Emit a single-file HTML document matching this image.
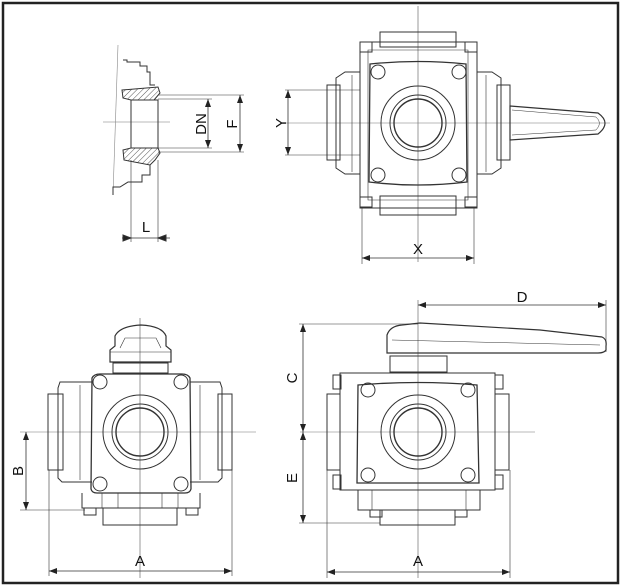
<!DOCTYPE html>
<html><head><meta charset="utf-8"><style>
html,body{margin:0;padding:0;background:#fff}
svg{display:block}
text{font-family:"Liberation Sans",Arial,sans-serif;font-size:15px;fill:#111}
</style></head><body>
<svg width="623" height="587" viewBox="0 0 623 587" xmlns="http://www.w3.org/2000/svg">
<defs>
<marker id="ar" markerWidth="8" markerHeight="6" refX="8" refY="3" orient="auto-start-reverse" markerUnits="userSpaceOnUse"><path d="M0,0 L8,3 L0,6 z" fill="#222"/></marker>
<pattern id="hatch" width="4" height="4" patternUnits="userSpaceOnUse" patternTransform="rotate(45)"><line x1="0" y1="0" x2="0" y2="4" stroke="#555" stroke-width="1"/></pattern>
</defs>
<rect x="3" y="3" width="615" height="580" fill="#fff" stroke="#222" stroke-width="2.5"/>

<g fill="none" stroke="#333" stroke-width="1">
<!-- ===== Section view ===== -->
<line x1="103" y1="122" x2="170" y2="122" stroke="#777" stroke-width="0.6"/>
<path d="M118,45 L113,195" stroke="#888" stroke-width="0.6"/>
<path d="M123,60 L127,60 L127,62 L140,62 L140,66 L147,66 L147,72 L150,72 L150,85 L155,85"/>
<path d="M122,90 L158,87 L160,93 L154,100 L131,100 L123,98 z" fill="url(#hatch)"/>
<path d="M123,150 L131,148 L158,148 L160,153 L155,160 L150,165 L124,160 z" fill="url(#hatch)"/>
<rect x="131" y="100" width="27" height="48"/>
<path d="M150,165 L150,175 L142,175 L142,182 L128,182 L120,187 L113,187 L113,195"/>
<line x1="158" y1="99" x2="212" y2="99" stroke-width="0.6"/>
<line x1="158" y1="148" x2="212" y2="148" stroke-width="0.6"/>
<line x1="158" y1="95" x2="244" y2="95" stroke-width="0.6"/>
<line x1="158" y1="152" x2="244" y2="152" stroke-width="0.6"/>
<line x1="208" y1="99" x2="208" y2="148" stroke-width="0.8" marker-start="url(#ar)" marker-end="url(#ar)"/>
<line x1="240" y1="95" x2="240" y2="152" stroke-width="0.8" marker-start="url(#ar)" marker-end="url(#ar)"/>
<line x1="131" y1="160" x2="131" y2="242" stroke-width="0.6"/>
<line x1="158" y1="160" x2="158" y2="242" stroke-width="0.6"/>
<line x1="122" y1="238" x2="170" y2="238" stroke-width="0.8"/>
<path d="M131,238 l-8,-3 v6z M158,238 l8,-3 v6z" fill="#222"/>
</g>
<text x="146" y="232" text-anchor="middle">L</text>
<text transform="translate(206,124) rotate(-90)" text-anchor="middle">DN</text>
<text transform="translate(237,124) rotate(-90)" text-anchor="middle">F</text>

<!-- ===== Top view ===== -->
<g fill="none" stroke="#333" stroke-width="1">
<line x1="418" y1="6" x2="418" y2="262" stroke="#555" stroke-width="0.6"/>
<line x1="280" y1="123" x2="610" y2="123" stroke="#777" stroke-width="0.6"/>
<rect x="380" y="32" width="76" height="15"/>
<rect x="380" y="196" width="76" height="19"/>
<rect x="360" y="42" width="117" height="166"/>
<path d="M368,50 L468,50 L468,200 L368,200 z" stroke-width="0.6"/>
<path d="M370,64 Q418,59 466,64 L467,182 Q418,188 369,182 z" stroke-width="1.3"/>
<rect x="360" y="42" width="12" height="10"/><rect x="465" y="42" width="12" height="10"/>
<rect x="360" y="197" width="12" height="10"/><rect x="465" y="197" width="12" height="10"/>
<circle cx="378" cy="72" r="7"/><circle cx="459" cy="72" r="7"/>
<circle cx="378" cy="175" r="7"/><circle cx="459" cy="175" r="7"/>
<circle cx="418" cy="123" r="37"/><circle cx="418" cy="123" r="28"/><circle cx="418" cy="123" r="24" stroke-width="1.4"/>
<path d="M360,72 L345,72 L336,78 L336,168 L345,174 L360,174"/>
<rect x="327" y="85" width="13" height="75"/>
<line x1="352" y1="75" x2="352" y2="172" stroke-width="0.6"/>
<path d="M477,72 L492,72 L501,78 L501,168 L492,174 L477,174"/>
<rect x="497" y="85" width="13" height="75"/>
<line x1="486" y1="75" x2="486" y2="172" stroke-width="0.6"/>
<path d="M510,106 L598,113 Q612,123 598,134 L510,140 z" stroke-width="1.2"/>
<path d="M512,110 L596,117 Q603,123 596,130 L512,135" stroke-width="0.5"/>
<line x1="285" y1="90" x2="360" y2="90" stroke-width="0.6"/>
<line x1="285" y1="155" x2="360" y2="155" stroke-width="0.6"/>
<line x1="288" y1="90" x2="288" y2="155" stroke-width="0.8" marker-start="url(#ar)" marker-end="url(#ar)"/>
<line x1="362" y1="208" x2="362" y2="264" stroke-width="0.6"/>
<line x1="474" y1="208" x2="474" y2="264" stroke-width="0.6"/>
<line x1="362" y1="258" x2="474" y2="258" stroke-width="0.8" marker-start="url(#ar)" marker-end="url(#ar)"/>
</g>
<text x="418" y="254" text-anchor="middle">X</text>
<text transform="translate(286,123) rotate(-90)" text-anchor="middle">Y</text>

<!-- ===== Bottom-left view ===== -->
<g fill="none" stroke="#333" stroke-width="1">
<line x1="140" y1="318" x2="140" y2="578" stroke="#555" stroke-width="0.6"/>
<line x1="20" y1="432" x2="256" y2="432" stroke="#777" stroke-width="0.6"/>
<path d="M110,362 L110,350 L115,346 L115,336 Q120,326 141,325 Q162,326 166,336 L166,346 L171,350 L171,362 z" stroke-width="1.2"/>
<path d="M120,348 L125,338 L156,338 L161,348 M110,352 L171,352" stroke-width="0.6"/>
<rect x="113" y="363" width="55" height="10"/>
<path d="M92,378 Q94,374 100,374 L182,374 Q188,374 190,378 L191,489 Q190,493 185,493 L97,493 Q92,493 91,489 z" stroke-width="1.3"/>
<circle cx="100" cy="382" r="7"/><circle cx="181" cy="382" r="7"/>
<circle cx="100" cy="484" r="7"/><circle cx="181" cy="484" r="7"/>
<circle cx="140" cy="432" r="37"/><circle cx="140" cy="432" r="28"/><circle cx="140" cy="432" r="24" stroke-width="1.4"/>
<path d="M92,382 L60,382 L58,388 L58,478 L62,482 L92,482"/>
<rect x="48" y="394" width="15" height="76"/>
<line x1="80" y1="385" x2="80" y2="480" stroke-width="0.6"/>
<path d="M190,382 L220,382 L222,388 L222,478 L218,482 L190,482"/>
<rect x="218" y="394" width="14" height="76"/>
<line x1="200" y1="385" x2="200" y2="480" stroke-width="0.6"/>
<path d="M82,493 L82,508 L200,508 L200,493"/>
<rect x="84" y="508" width="12" height="7"/><rect x="186" y="508" width="12" height="7"/>
<rect x="103" y="508" width="74" height="17"/>
<path d="M102,493 L102,508 M118,493 L118,508 M162,493 L162,508 M178,493 L178,508" stroke-width="0.6"/>
<line x1="20" y1="510" x2="85" y2="510" stroke-width="0.6"/>
<line x1="26" y1="432" x2="26" y2="510" stroke-width="0.8" marker-start="url(#ar)" marker-end="url(#ar)"/>
<line x1="49" y1="470" x2="49" y2="576" stroke-width="0.6"/>
<line x1="232" y1="470" x2="232" y2="576" stroke-width="0.6"/>
<line x1="49" y1="571" x2="232" y2="571" stroke-width="0.8" marker-start="url(#ar)" marker-end="url(#ar)"/>
</g>
<text x="140" y="566" text-anchor="middle">A</text>
<text transform="translate(23,471) rotate(-90)" text-anchor="middle">B</text>

<!-- ===== Bottom-right view ===== -->
<g fill="none" stroke="#333" stroke-width="1">
<line x1="418" y1="300" x2="418" y2="578" stroke="#555" stroke-width="0.6"/>
<line x1="300" y1="432" x2="535" y2="432" stroke="#777" stroke-width="0.6"/>
<path d="M387,353 L387,335 Q390,326 402,325 L420,323 L540,330 L602,337 Q607,339 606,346 L606,350 Q604,353 598,353 z" stroke-width="1.2"/>
<path d="M392,340 L600,345" stroke-width="0.5"/>
<rect x="390" y="356" width="57" height="16"/>
<rect x="340" y="373" width="155" height="117"/>
<path d="M358,385 Q418,380 477,385 L479,483 L357,483 z" stroke-width="1.3"/>
<circle cx="368" cy="390" r="7"/><circle cx="468" cy="390" r="7"/>
<circle cx="368" cy="475" r="7"/><circle cx="468" cy="475" r="7"/>
<circle cx="418" cy="432" r="37"/><circle cx="418" cy="432" r="28"/><circle cx="418" cy="432" r="24" stroke-width="1.4"/>
<rect x="333" y="375" width="8" height="14"/><rect x="495" y="375" width="8" height="14"/>
<rect x="333" y="475" width="8" height="14"/><rect x="495" y="475" width="8" height="14"/>
<rect x="327" y="394" width="13" height="76"/>
<rect x="495" y="394" width="14" height="76"/>
<path d="M358,490 L358,510 L480,510 L480,490"/>
<rect x="370" y="510" width="12" height="7"/><rect x="455" y="510" width="12" height="7"/>
<rect x="380" y="510" width="75" height="15"/>
<path d="M372,490 L372,510 M466,490 L466,510" stroke-width="0.6"/>
<line x1="418" y1="305" x2="606" y2="305" stroke-width="0.8" marker-start="url(#ar)" marker-end="url(#ar)"/>
<line x1="606" y1="300" x2="606" y2="352" stroke-width="0.6"/>
<line x1="299" y1="324" x2="418" y2="324" stroke-width="0.6"/>
<line x1="299" y1="523" x2="380" y2="523" stroke-width="0.6"/>
<line x1="303" y1="324" x2="303" y2="432" stroke-width="0.8" marker-start="url(#ar)" marker-end="url(#ar)"/>
<line x1="303" y1="432" x2="303" y2="523" stroke-width="0.8" marker-start="url(#ar)" marker-end="url(#ar)"/>
<line x1="327" y1="470" x2="327" y2="578" stroke-width="0.6"/>
<line x1="510" y1="470" x2="510" y2="578" stroke-width="0.6"/>
<line x1="327" y1="572" x2="510" y2="572" stroke-width="0.8" marker-start="url(#ar)" marker-end="url(#ar)"/>
</g>
<text x="522" y="302" text-anchor="middle">D</text>
<text x="418" y="566" text-anchor="middle">A</text>
<text transform="translate(297,378) rotate(-90)" text-anchor="middle">C</text>
<text transform="translate(297,478) rotate(-90)" text-anchor="middle">E</text>
</svg>
</body></html>
